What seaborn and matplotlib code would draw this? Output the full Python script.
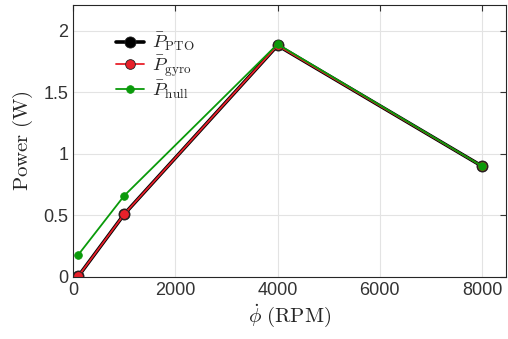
import numpy as np
import pandas as pd
import matplotlib
matplotlib.use("Agg")
import matplotlib.pyplot as plt
import seaborn as sns

# data
rpm = [100, 1000, 4000, 8000]
p_pto = [0.005, 0.51, 1.88, 0.90]
p_gyro = [0.005, 0.51, 1.88, 0.90]
p_hull = [0.18, 0.66, 1.89, 0.90]

series = [
    (r"$\bar{P}_{\mathrm{PTO}}$", p_pto, "black", 2.6, 8),
    (r"$\bar{P}_{\mathrm{gyro}}$", p_gyro, "#e8202a", 1.3, 7),
    (r"$\bar{P}_{\mathrm{hull}}$", p_hull, "#0a9a0a", 1.3, 5.5),
]

sns.set_style("white")
plt.rcParams["font.family"] = ["Liberation Sans", "DejaVu Sans"]
plt.rcParams["mathtext.fontset"] = "cm"

fig = plt.figure(figsize=(5.08, 3.39), dpi=100)
ax = fig.add_axes([0.144, 0.183, 0.852, 0.803])

for name, vals, col, lw, ms in series:
    df = pd.DataFrame({"rpm": rpm, "P": vals})
    sns.lineplot(data=df, x="rpm", y="P", ax=ax, color=col, lw=lw,
                 marker="o", markersize=ms, markeredgecolor="#222222" if col != "#0a9a0a" else col,
                 markeredgewidth=0.6, label=name)

ax.set_xlim(0, 8470)
ax.set_ylim(0, 2.21)
ax.set_xticks([0, 2000, 4000, 6000, 8000])
ax.set_yticks([0, 0.5, 1, 1.5, 2])
ax.set_yticklabels(["0", "0.5", "1", "1.5", "2"])
ax.grid(True, color="#e3e3e3", lw=0.8)
ax.tick_params(direction="in", top=True, right=True, length=4, labelsize=13, colors="#333333")
for s in ax.spines.values():
    s.set_color("#262626")
    s.set_linewidth(0.8)

ax.set_xlabel(r"$\dot{\phi}\ \mathrm{(RPM)}$", fontsize=15, labelpad=2)
ax.set_ylabel(r"$\mathrm{Power\ (W)}$", fontsize=15, labelpad=6)

leg = ax.legend(loc="upper left", bbox_to_anchor=(0.06, 0.965), frameon=False,
                fontsize=13.5, handlelength=1.5, labelspacing=0.0, handletextpad=0.4)

fig.savefig("out.png", dpi=100)
